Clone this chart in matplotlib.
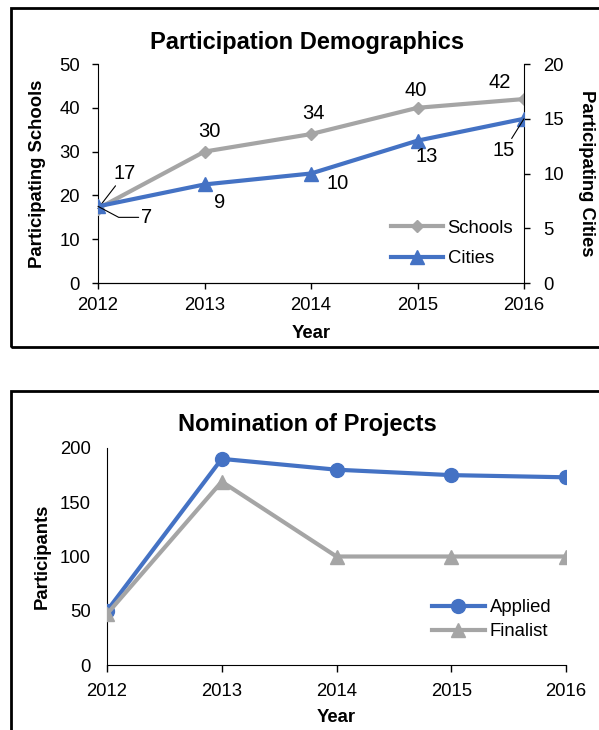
import matplotlib
matplotlib.use("Agg")
import matplotlib.pyplot as plt
from matplotlib.patches import Rectangle
from matplotlib.lines import Line2D

plt.rcParams['font.family'] = ['Liberation Sans', 'DejaVu Sans']

years = [2012, 2013, 2014, 2015, 2016]
schools = [17, 30, 34, 40, 42]
cities = [7, 9, 10, 13, 15]
applied = [50, 190, 180, 175, 173]
finalist = [47, 169, 100, 100, 100]

GRAY = '#A5A5A5'
BLUE = '#4472C4'
W, H = 599, 730
TICK_FS = 13.3
LAB_FS = 13.3
DATA_FS = 14.5
TITLE_FS = 17

fig = plt.figure(figsize=(W/100, H/100), dpi=100)

def fx(px):
    return px / W

def fy(py):
    return 1 - py / H

# frames
fig.patches.append(Rectangle((fx(11), fy(347)), 1.0, (347-8)/H, transform=fig.transFigure,
                             fill=False, ec='black', lw=2))
fig.patches.append(Rectangle((fx(11), -0.02), 1.0, 0.02+(H-391)/H, transform=fig.transFigure,
                             fill=False, ec='black', lw=2))

# ---------- Top chart ----------
ax = fig.add_axes([fx(98), fy(283), (524-98)/W, (283-64)/H])
ax2 = ax.twinx()
ax.plot(years, schools, color=GRAY, lw=3, marker='D', ms=6.5, zorder=3)
ax2.plot(years, cities, color=BLUE, lw=3, marker='^', ms=10.5, zorder=3)
ax.set_ylim(0, 50)
ax2.set_ylim(0, 20)
ax.set_xlim(2012, 2016)
ax.set_yticks(range(0, 51, 10))
ax2.set_yticks(range(0, 21, 5))
ax.set_xticks(years)
for a in (ax, ax2):
    a.spines['top'].set_visible(False)
    a.tick_params(labelsize=TICK_FS, direction='out', length=4, width=1)
ax.spines['right'].set_visible(False)
ax2.spines['left'].set_visible(False)
ax.tick_params(axis='x', pad=6)
ax.tick_params(axis='y', pad=9)
ax2.tick_params(axis='y', pad=10)
ax.set_ylabel('Participating Schools', fontsize=LAB_FS, fontweight='bold', va='center')
ax.yaxis.set_label_coords((37-98)/426, 0.5)
ax2.set_ylabel('Participating Cities', fontsize=LAB_FS, fontweight='bold', rotation=270, va='center')
ax2.yaxis.set_label_coords((587-98)/426, 0.5)
ax.set_xlabel('Year', fontsize=LAB_FS, fontweight='bold', va='center')
ax.xaxis.set_label_coords(0.5, -(334-283)/219)
fig.text(fx(307), fy(42), 'Participation Demographics', fontsize=TITLE_FS, fontweight='bold',
         ha='center', va='center')

lp = dict(textcoords='offset pixels', fontsize=DATA_FS, ha='center', va='center')
leader = dict(arrowstyle='-', color='black', lw=0.8, shrinkA=0, shrinkB=0)
# schools labels
sch_off = [(27, 35), (5, 20), (2, 21), (-2, 17), (-24, 17)]
for i, (v, off) in enumerate(zip(schools, sch_off)):
    if i == 0:
        ax.annotate(str(v), xy=(years[i], v), xytext=off, arrowprops=leader, **lp)
    else:
        ax.annotate(str(v), xy=(years[i], v), xytext=off, **lp)
# cities labels
cit_off = [(49, -11), (15, -18), (27, -10), (9, -16), (-20, -32)]
for i, (v, off) in enumerate(zip(cities, cit_off)):
    if i == 0:
        ax2.annotate(str(v), xy=(years[i], v), xytext=off,
                     arrowprops=dict(leader, connectionstyle='angle,angleA=0,angleB=-28,rad=0'), **lp)
    elif i == 4:
        ax2.annotate(str(v), xy=(years[i], v), xytext=off, arrowprops=leader, **lp)
    else:
        ax2.annotate(str(v), xy=(years[i], v), xytext=off, **lp)

handles = [Line2D([], [], color=GRAY, lw=3, marker='D', ms=6.5),
           Line2D([], [], color=BLUE, lw=3, marker='^', ms=10.5)]
ax2.legend(handles, ['Schools', 'Cities'], loc='center left',
           bbox_to_anchor=(fx(391), fy(243.5)), bbox_transform=fig.transFigure,
           frameon=False, fontsize=LAB_FS, handlelength=2.8, handletextpad=0.27,
           borderaxespad=0, borderpad=0, labelspacing=0.72)

# ---------- Bottom chart ----------
bx = fig.add_axes([fx(107), fy(665), (566-107)/W, (665-448)/H])
bx.plot(years, applied, color=BLUE, lw=3, marker='o', ms=10, zorder=3, label='Applied')
bx.plot(years, finalist, color=GRAY, lw=3, marker='^', ms=10.5, zorder=3, label='Finalist')
bx.set_ylim(0, 200)
bx.set_xlim(2012, 2016)
bx.set_yticks(range(0, 201, 50))
bx.set_xticks(years)
bx.spines['top'].set_visible(False)
bx.spines['right'].set_visible(False)
bx.tick_params(axis='y', labelsize=TICK_FS, length=0, pad=11.5)
bx.tick_params(axis='x', labelsize=TICK_FS, direction='out', length=5, width=1, pad=8)
bx.set_ylabel('Participants', fontsize=LAB_FS, fontweight='bold', va='center')
bx.yaxis.set_label_coords((42-107)/459, 0.5)
bx.set_xlabel('Year', fontsize=LAB_FS, fontweight='bold', va='center')
bx.xaxis.set_label_coords(0.5, -(717-665)/217)
fig.text(fx(307), fy(425), 'Nomination of Projects', fontsize=TITLE_FS, fontweight='bold',
         ha='center', va='center')
bx.legend(loc='center left', bbox_to_anchor=(fx(432), fy(619.5)), bbox_transform=fig.transFigure,
          frameon=False, fontsize=LAB_FS, handlelength=2.85, handletextpad=0.27,
          borderaxespad=0, borderpad=0, labelspacing=0.38)

fig.savefig('out.png', dpi=100)
